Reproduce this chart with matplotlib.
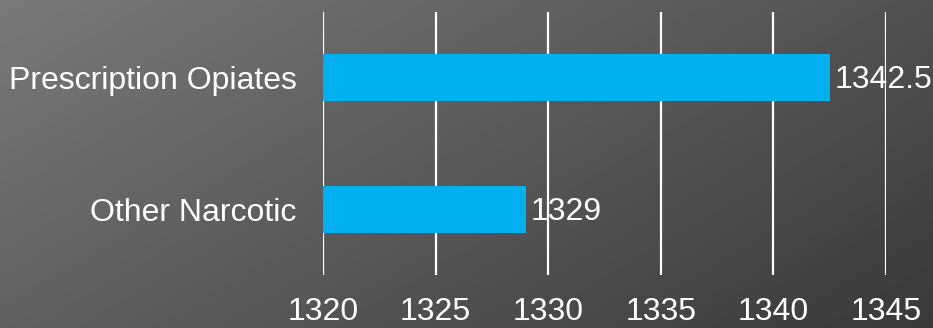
import numpy as np
import matplotlib
matplotlib.use("Agg")
import matplotlib.pyplot as plt

# data
categories = ["Other Narcotic", "Prescription Opiates"]
values = [1329, 1342.5]
value_labels = ["1329", "1342.5"]
x_ticks = [1320, 1325, 1330, 1335, 1340, 1345]

bar_color = "#00B0F0"
plt.rcParams["font.family"] = ["Liberation Sans", "DejaVu Sans"]
fsize = 23

fig = plt.figure(figsize=(9.33, 3.28), dpi=100)

# grey backdrop, lighter in the top-left corner
bg = fig.add_axes([0, 0, 1, 1], zorder=-10)
gx, gy = np.meshgrid(np.linspace(0, 1, 400), np.linspace(0, 1, 200))
shade = 121 - 40 * gx - 24 * gy
bg.imshow(shade, cmap="gray", vmin=0, vmax=255, aspect="auto",
          extent=[0, 1, 0, 1], origin="upper")
bg.set_axis_off()

W, H = 933, 328
ax = fig.add_axes([323 / W, (H - 275) / H, (886 - 323) / W, (275 - 12) / H])
ax.set_facecolor("none")

y = np.arange(len(categories))
ax.barh(y, [v - x_ticks[0] for v in values], left=x_ticks[0], height=0.36,
        color=bar_color, zorder=3)

for xt in x_ticks:
    ax.axvline(xt, color="white", lw=1.6, zorder=2)

for yi, v, lab in zip(y, values, value_labels):
    ax.text(v + 0.22, yi - 0.02, lab, color="white", fontsize=fsize,
            va="center", ha="left", zorder=1, clip_on=False)

ax.set_xlim(x_ticks[0], x_ticks[-1])
ax.set_ylim(-0.5, 1.5)
ax.set_xticks(x_ticks)
ax.set_xticklabels([str(t) for t in x_ticks])
ax.set_yticks(y)
ax.set_yticklabels(categories)
ax.tick_params(axis="x", length=0, pad=16, colors="white", labelsize=fsize)
ax.tick_params(axis="y", length=0, pad=19, colors="white", labelsize=fsize)
for s in ax.spines.values():
    s.set_visible(False)

fig.savefig("out.png", dpi=100)
